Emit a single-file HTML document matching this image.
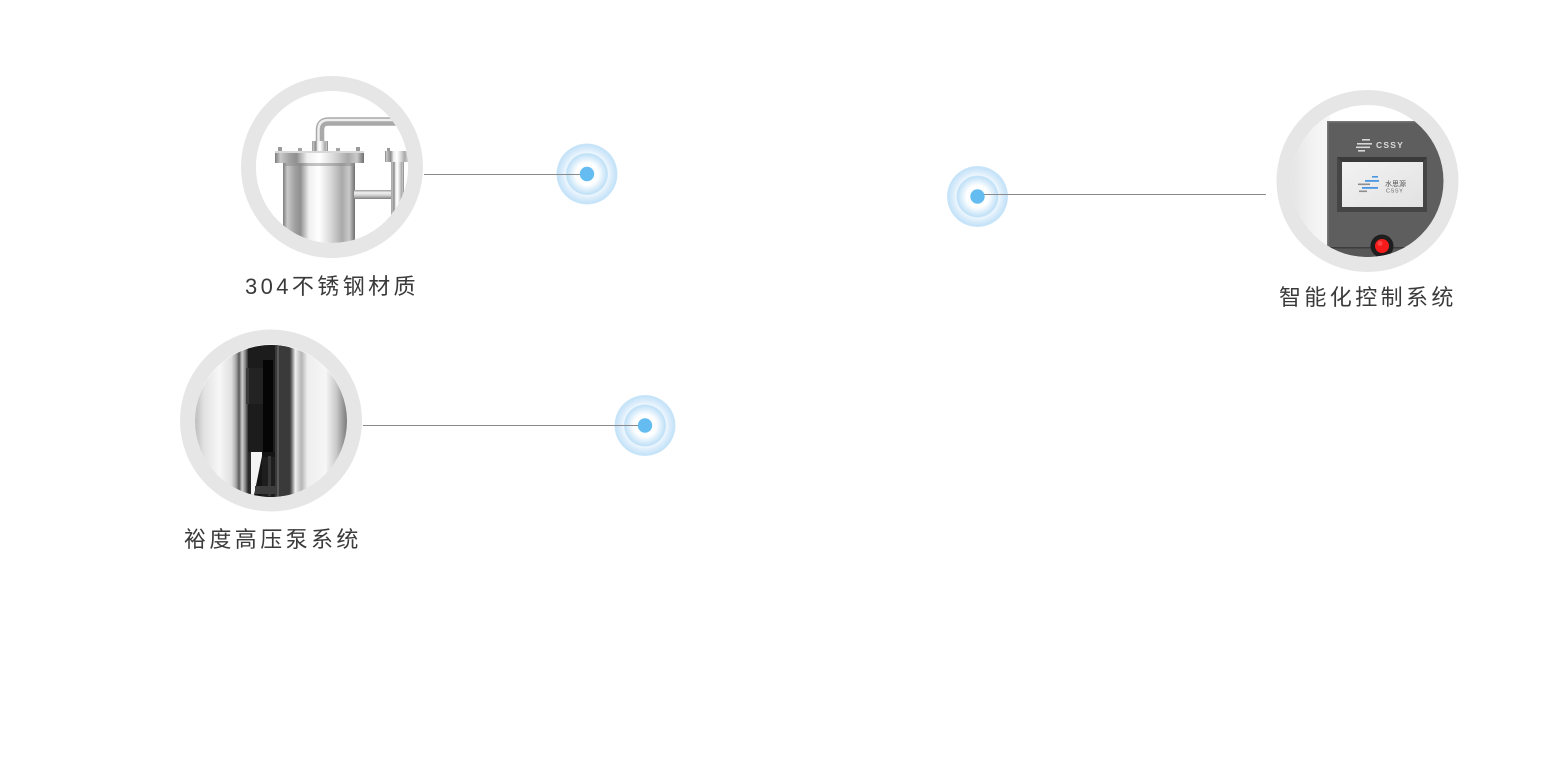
<!DOCTYPE html>
<html>
<head>
<meta charset="utf-8">
<style>
  html,body{margin:0;padding:0;background:#fff;}
  body{width:1560px;height:760px;position:relative;overflow:hidden;}
  svg{position:absolute;left:0;top:0;}
  .lbl{position:absolute;white-space:nowrap;font-family:"Liberation Sans","Noto Sans CJK SC",sans-serif;font-size:22px;letter-spacing:3.4px;color:#3a3a3a;line-height:30px;}
</style>
</head>
<body>
<svg width="1560" height="760" viewBox="0 0 1560 760" xmlns="http://www.w3.org/2000/svg">
  <defs>
    <radialGradient id="ripple" cx="0.5" cy="0.5" r="0.5">
      <stop offset="0" stop-color="#ffffff"/>
      <stop offset="0.36" stop-color="#ffffff"/>
      <stop offset="0.665" stop-color="#bfe0f7"/>
      <stop offset="0.7" stop-color="#edf6fd"/>
      <stop offset="0.8" stop-color="#dcedfb"/>
      <stop offset="0.97" stop-color="#c3e2f8"/>
      <stop offset="1" stop-color="#d3eafb"/>
    </radialGradient>
    <clipPath id="c1"><circle cx="332" cy="167" r="76"/></clipPath>
    <clipPath id="c2"><circle cx="271" cy="421" r="76"/></clipPath>
    <clipPath id="c3"><circle cx="1367.5" cy="181" r="76"/></clipPath>
    <linearGradient id="metal" x1="0" y1="0" x2="1" y2="0">
      <stop offset="0" stop-color="#7c7c7c"/>
      <stop offset="0.06" stop-color="#c9c9c9"/>
      <stop offset="0.16" stop-color="#a2a2a2"/>
      <stop offset="0.24" stop-color="#8f8f8f"/>
      <stop offset="0.36" stop-color="#efefef"/>
      <stop offset="0.5" stop-color="#ffffff"/>
      <stop offset="0.66" stop-color="#d9d9d9"/>
      <stop offset="0.82" stop-color="#a9a9a9"/>
      <stop offset="0.92" stop-color="#c9c9c9"/>
      <stop offset="1" stop-color="#6f6f6f"/>
    </linearGradient>
    <linearGradient id="metalV" x1="0" y1="0" x2="0" y2="1">
      <stop offset="0" stop-color="#9a9a9a"/>
      <stop offset="0.3" stop-color="#f2f2f2"/>
      <stop offset="0.6" stop-color="#d0d0d0"/>
      <stop offset="1" stop-color="#7e7e7e"/>
    </linearGradient>
    <linearGradient id="pumpbg" x1="195" y1="0" x2="347" y2="0" gradientUnits="userSpaceOnUse">
      <stop offset="0" stop-color="#bdbdbd"/>
      <stop offset="0.06" stop-color="#e2e2e2"/>
      <stop offset="0.16" stop-color="#f7f7f7"/>
      <stop offset="0.24" stop-color="#e0e0e0"/>
      <stop offset="0.27" stop-color="#a8a8a8"/>
      <stop offset="0.29" stop-color="#5a5a5a"/>
      <stop offset="0.31" stop-color="#cfcfcf"/>
      <stop offset="0.33" stop-color="#8a8a8a"/>
      <stop offset="0.35" stop-color="#2a2a2a"/>
      <stop offset="0.62" stop-color="#2a2a2a"/>
      <stop offset="0.635" stop-color="#6a6a6a"/>
      <stop offset="0.66" stop-color="#efefef"/>
      <stop offset="0.7" stop-color="#b5b5b5"/>
      <stop offset="0.74" stop-color="#eeeeee"/>
      <stop offset="0.86" stop-color="#f6f6f6"/>
      <stop offset="0.93" stop-color="#c9c9c9"/>
      <stop offset="1" stop-color="#7a7a7a"/>
    </linearGradient>
    <linearGradient id="ctrlbg" x1="0" y1="0" x2="1" y2="0">
      <stop offset="0" stop-color="#e4e4e4"/>
      <stop offset="0.6" stop-color="#f3f3f3"/>
      <stop offset="1" stop-color="#f8f8f8"/>
    </linearGradient>
    <linearGradient id="screen" x1="0" y1="0" x2="1" y2="1">
      <stop offset="0" stop-color="#f2f2f2"/>
      <stop offset="1" stop-color="#e2e2e2"/>
    </linearGradient>
  </defs>

  <!-- ===== Circle 1 : stainless filter ===== -->
  <circle cx="332" cy="167" r="83.5" fill="none" stroke="#e6e6e6" stroke-width="15"/>
  <g clip-path="url(#c1)">
    <rect x="250" y="85" width="170" height="170" fill="#ffffff"/>
    <!-- top pipe -->
    <path d="M320 146 V130 Q320 121.5 328.5 121.5 H412" fill="none" stroke="#a9a9a9" stroke-width="8.5"/>
    <path d="M318.5 146 V130 Q318.5 120 328.5 120 H412" fill="none" stroke="#eeeeee" stroke-width="2.5"/>
    <rect x="312" y="141" width="16" height="11" fill="url(#metal)"/>
    <!-- bolts -->
    <rect x="278" y="147" width="4" height="5" fill="#9a9a9a"/>
    <rect x="298" y="148" width="4" height="4" fill="#a5a5a5"/>
    <rect x="336" y="148" width="4" height="4" fill="#a5a5a5"/>
    <rect x="356" y="147" width="4" height="5" fill="#9a9a9a"/>
    <!-- flange -->
    <rect x="275" y="151" width="89" height="12" fill="url(#metal)"/>
    <rect x="275" y="151" width="89" height="2" fill="#d8d8d8"/>
    <!-- cylinder -->
    <rect x="283" y="163" width="72" height="90" fill="url(#metal)"/>
    <rect x="283" y="163" width="72" height="3" fill="#8a8a8a" opacity="0.5"/>
    <!-- horizontal connector -->
    <rect x="354" y="190" width="40" height="9" fill="url(#metalV)"/>
    <!-- right pipe -->
    <rect x="387" y="148" width="3" height="4" fill="#9a9a9a"/>
    <rect x="385" y="151" width="24" height="11" fill="url(#metal)"/>
    <rect x="391" y="162" width="13" height="90" fill="url(#metal)"/>
  </g>

  <!-- ===== Circle 2 : pump ===== -->
  <circle cx="271" cy="420.5" r="83.5" fill="none" stroke="#e6e6e6" stroke-width="15"/>
  <g clip-path="url(#c2)">
    <rect x="190" y="340" width="165" height="165" fill="url(#pumpbg)"/>
    <rect x="248" y="345" width="42" height="107" fill="#1c1c1c"/>
    <rect x="263" y="360" width="10" height="95" fill="#050505"/>
    <rect x="246" y="368" width="17" height="36" fill="#232323"/>
    <rect x="246" y="368" width="3" height="36" fill="#3a3a3a"/>
    <rect x="275" y="345" width="15" height="155" fill="#3a3a3a"/>
    <rect x="277" y="345" width="2" height="155" fill="#5a5a5a"/>
    <!-- lower part -->
    <path d="M251 452 H262 V500 H251 Z" fill="#f4f4f4"/>
    <path d="M262 452 L262 456 L253 500 H275 V452 Z" fill="#141414"/>
    <rect x="262" y="457" width="13" height="45" fill="#1e1e1e"/>
    <rect x="268" y="456" width="3" height="40" fill="#383838"/>
    <rect x="255" y="486" width="22" height="8" fill="#3c3c3c"/>
  </g>

  <!-- ===== Circle 3 : control panel ===== -->
  <circle cx="1367.5" cy="181" r="83.5" fill="none" stroke="#e6e6e6" stroke-width="15"/>
  <g clip-path="url(#c3)">
    <rect x="1290" y="100" width="40" height="160" fill="url(#ctrlbg)"/>
    <rect x="1327" y="121" width="130" height="140" fill="#5e5e5e"/>
    <rect x="1327" y="121" width="1.5" height="140" fill="#7a7a7a"/>
    <rect x="1327" y="121" width="130" height="1.5" fill="#777"/>
    <!-- top logo -->
    <rect x="1362" y="139" width="8" height="1.6" fill="#d8d8d8"/>
    <rect x="1357" y="143" width="15" height="1.6" fill="#d8d8d8"/>
    <rect x="1356" y="146.5" width="14" height="1.6" fill="#d8d8d8"/>
    <rect x="1358" y="150" width="7" height="1.6" fill="#d8d8d8"/>
    <text x="1376" y="148" font-family="Liberation Sans, sans-serif" font-weight="bold" font-size="8.5" letter-spacing="1.2" fill="#dcdcdc">CSSY</text>
    <!-- screen bezel -->
    <path d="M1337 157 H1427 V212 H1337 Z" fill="#454545"/>
    <path d="M1337 157 L1342 162 H1423 L1427 157 Z" fill="#3a3a3a"/>
    <rect x="1342" y="162" width="81" height="45" fill="url(#screen)"/>
    <!-- screen logo -->
    <rect x="1372" y="176" width="6" height="1.6" fill="#4a97e2"/>
    <rect x="1365" y="180" width="14" height="1.8" fill="#4a97e2"/>
    <rect x="1358" y="183.5" width="12" height="1.6" fill="#8d8d8d"/>
    <rect x="1362" y="187" width="16" height="1.8" fill="#4a97e2"/>
    <rect x="1359" y="190.5" width="8" height="1.6" fill="#8d8d8d"/>
    <text x="1385" y="186" font-family="Liberation Sans, 'Noto Sans CJK SC', sans-serif" font-size="7" fill="#555">水思源</text>
    <text x="1386" y="192.5" font-family="Liberation Sans, sans-serif" font-size="5.5" letter-spacing="0.6" fill="#666">CSSY</text>
    <!-- bottom -->
    <rect x="1327" y="247" width="130" height="1.5" fill="#3c3c3c"/>
    <rect x="1327" y="248.5" width="130" height="12" fill="#575757"/>
    <!-- button -->
    <circle cx="1382" cy="246" r="11.5" fill="#1e1e1e"/>
    <circle cx="1382" cy="246" r="7" fill="#f51b1b"/>
    <circle cx="1380" cy="243.5" r="2.5" fill="#ff6060" opacity="0.6"/>
  </g>

  <!-- ===== targets & connectors ===== -->
  <circle cx="587" cy="174" r="30.5" fill="url(#ripple)"/>
  <line x1="424" y1="174.5" x2="587" y2="174.5" stroke="#8a8a8a" stroke-width="1"/>
  <circle cx="587" cy="174" r="7.2" fill="#64bcf1"/>

  <circle cx="645" cy="425.5" r="30.5" fill="url(#ripple)"/>
  <line x1="363" y1="425.5" x2="645" y2="425.5" stroke="#8a8a8a" stroke-width="1"/>
  <circle cx="645" cy="425.5" r="7.2" fill="#64bcf1"/>

  <circle cx="977.5" cy="196.5" r="30.5" fill="url(#ripple)"/>
  <line x1="977" y1="194.5" x2="1266" y2="194.5" stroke="#8a8a8a" stroke-width="1"/>
  <circle cx="977.5" cy="196.5" r="7.2" fill="#64bcf1"/>
</svg>

<div class="lbl" style="left:245px;top:272px;">304不锈钢材质</div>
<div class="lbl" style="left:184px;top:525px;">裕度高压泵系统</div>
<div class="lbl" style="left:1279px;top:283px;">智能化控制系统</div>
</body>
</html>
